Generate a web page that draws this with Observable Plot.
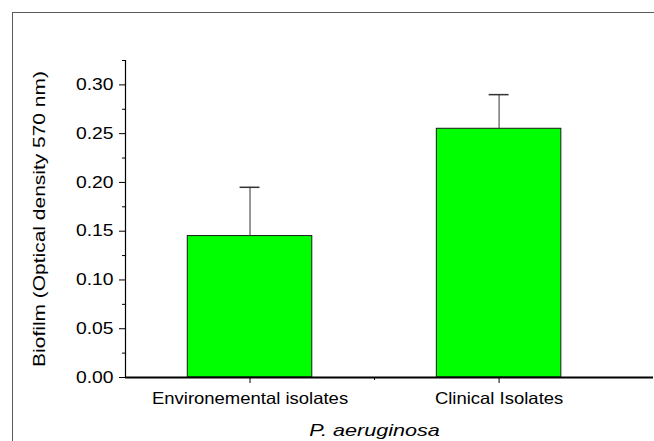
<!DOCTYPE html>
<html><head><meta charset="utf-8">
<script src="https://cdn.jsdelivr.net/npm/d3@7"></script>
<script src="https://cdn.jsdelivr.net/npm/@observablehq/plot@0.6"></script>
<style>
html,body{margin:0;padding:0;background:#fff;overflow:hidden;}
#wrap{position:relative;width:654px;height:441px;overflow:hidden;}
.fl{position:absolute;background:#5a5a5a;pointer-events:none;}
#fh{left:12px;top:12px;width:642px;height:1px;}
#fv{left:12px;top:12px;width:1px;height:429px;}
#wrap svg{position:absolute;left:0;top:0;}
</style></head><body><div id="wrap"><div class="fl" id="fh"></div><div class="fl" id="fv"></div></div>
<script>
const categories = ["Environemental isolates", "Clinical Isolates"];
const values = [0.145, 0.255];
const errors = [0.05, 0.035];
const yTicks = [0, 0.05, 0.10, 0.15, 0.20, 0.25, 0.30];
const yMinorTicks = [0.025, 0.075, 0.125, 0.175, 0.225, 0.275, 0.325];
const xTitle = "P. aeruginosa";
const yTitle = "Biofilm (Optical density 570 nm)";

const data = categories.map((c, i) => ({c, pos: i + 1, v: values[i], e: errors[i]}));
const halfBar = 0.25;
const halfCap = 0.04;
const font = '"Liberation Sans", Arial, sans-serif';

const svg = Plot.plot({
  width: 654, height: 441,
  marginLeft: 125, marginRight: 1, marginTop: 60, marginBottom: 64,
  x: {domain: [0.5, 2.62], axis: null},
  y: {domain: [0, 0.325], axis: null},
  style: {fontFamily: font, fontSize: "16.5px", color: "#000", background: "transparent"},
  marks: [
    Plot.rectY(data, {x1: d => d.pos - halfBar, x2: d => d.pos + halfBar, y1: 0, y2: "v", fill: "#00ff00", stroke: "#1a1a1a", strokeWidth: 1}),
    Plot.ruleX(data, {x: "pos", y1: "v", y2: d => d.v + d.e, stroke: "#555", strokeWidth: 1.2}),
    Plot.ruleY(data, {y: d => d.v + d.e, x1: d => d.pos - halfCap, x2: d => d.pos + halfCap, stroke: "#333", strokeWidth: 1.5}),
    Plot.axisY({ticks: yTicks, tickSize: 6, tickPadding: 6, tickFormat: d3.format(".2f"), label: null, fontSize: 16.5}),
    Plot.axisY({ticks: yMinorTicks, tickSize: 3, tickFormat: () => "", label: null}),
    Plot.axisX({ticks: [1, 2], tickSize: 6, tickPadding: 9, tickFormat: d => categories[d - 1], label: null, fontSize: 16.5}),
    Plot.axisX({ticks: [1.5], tickSize: 3, tickFormat: () => "", label: null}),
    Plot.ruleX([0.5], {stroke: "#000", strokeWidth: 1.2}),
    Plot.ruleY([0], {stroke: "#000", strokeWidth: 2}),
    Plot.text([yTitle], {frameAnchor: "left", textAnchor: "middle", rotate: -90, dx: -81, lineAnchor: "bottom", fontSize: 16.5, fill: "#000"}),
    Plot.text([xTitle], {x: 1.5, frameAnchor: "bottom", textAnchor: "middle", dy: 58, lineAnchor: "bottom", fontSize: 17, fontStyle: "italic", fill: "#000"})
  ]
});
document.getElementById("wrap").appendChild(svg);

function stretch(sel, k) {
  svg.querySelectorAll(sel).forEach(t => {
    const L = t.getComputedTextLength();
    if (L > 0) { t.setAttribute("textLength", L * k); t.setAttribute("lengthAdjust", "spacingAndGlyphs"); }
  });
}
stretch('g[aria-label="y-axis tick label"] text', 1.17);
stretch('g[aria-label="x-axis tick label"] text', 1.12);
stretch('g[aria-label="text"] text', 1.27);
</script></body></html>
